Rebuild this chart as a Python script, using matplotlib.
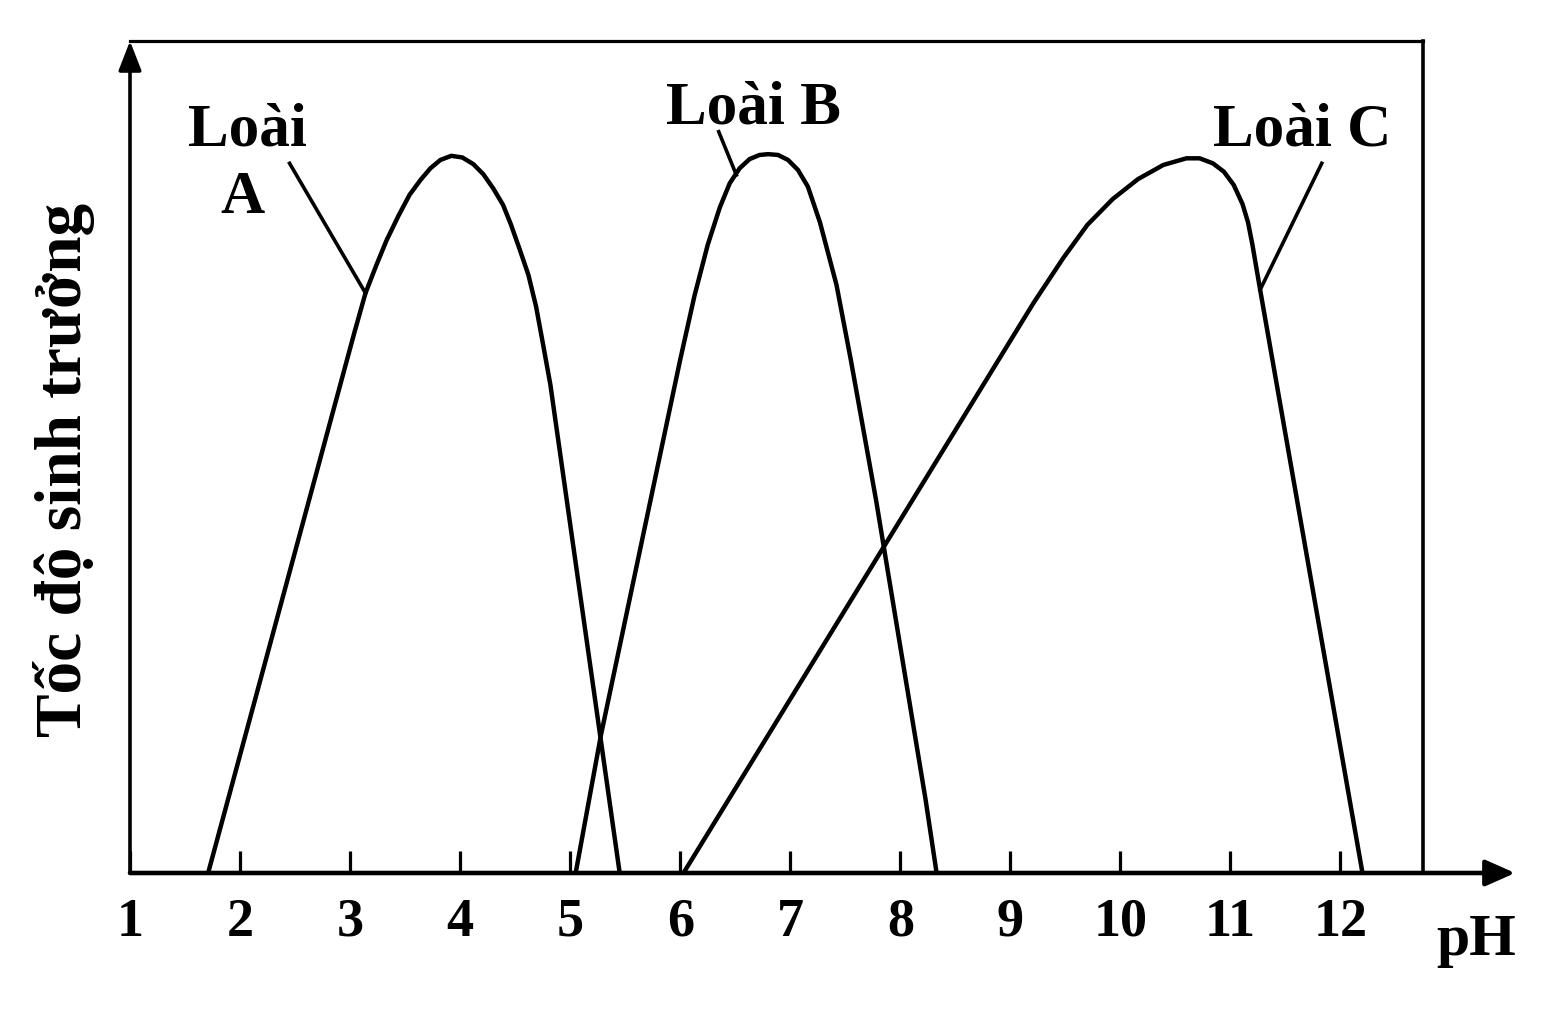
import matplotlib
matplotlib.use("Agg")
import matplotlib.pyplot as plt

plt.rcParams['font.family'] = ['Liberation Serif', 'DejaVu Serif']
plt.rcParams['font.weight'] = 'bold'

# pH values and growth rate (0-100)
ph_a = [1.71, 3.04, 3.14, 3.24, 3.33, 3.44, 3.54, 3.64, 3.73, 3.82, 3.92, 4.02, 4.12,
        4.21, 4.30, 4.39, 4.46, 4.54, 4.62, 4.69, 4.75, 4.82, 5.45]
rate_a = [0, 65.0, 69.7, 73.1, 76.0, 79.0, 81.5, 83.3, 84.7, 85.7, 86.2, 86.0, 85.2,
          84.0, 82.3, 80.3, 78.0, 75.0, 71.9, 68.1, 63.8, 58.7, 0]

ph_b = [5.05, 5.28, 5.73, 6.00, 6.13, 6.25, 6.36, 6.45, 6.54, 6.63, 6.72, 6.80, 6.89,
        6.98, 7.07, 7.16, 7.27, 7.42, 7.55, 7.78, 8.23, 8.33]
rate_b = [0, 16.6, 44.8, 61.7, 69.4, 75.5, 80.0, 82.9, 84.7, 85.8, 86.3, 86.4, 86.3,
          85.7, 84.5, 82.5, 78.2, 70.7, 61.7, 44.8, 8.8, 0]

ph_c = [6.03, 9.21, 9.48, 9.70, 9.93, 10.16, 10.39, 10.60, 10.72, 10.84, 10.94, 11.03,
        11.11, 11.16, 11.20, 11.27, 12.20]
rate_c = [0, 68.5, 73.9, 77.9, 81.0, 83.4, 85.1, 85.9, 85.9, 85.3, 84.3, 82.7,
          80.4, 78.2, 75.5, 70.1, 0]

ph_ticks = [1, 2, 3, 4, 5, 6, 7, 8, 9, 10, 11, 12]

# species labels: text, x, baseline y, leader start, leader end
labels = ['Loài', 'A', 'Loài B', 'Loài C']
label_x = [2.07, 2.02, 6.67, 11.65]
label_y = [87.5, 79.3, 90.1, 87.5]
leader_from = [(2.45, 85.3), (6.35, 89.1), (11.83, 85.3)]
leader_to = [(3.14, 69.7), (6.51, 83.9), (11.27, 70.1)]

fig = plt.figure(figsize=(15.45, 10.18), dpi=100)
ax = fig.add_axes([130 / 1545, 1 - 873 / 1018, 1293 / 1545, 832 / 1018])

lw = 3.2
for xs, ys in [(ph_a, rate_a), (ph_b, rate_b), (ph_c, rate_c)]:
    ax.plot(xs, ys, color='black', lw=lw, solid_joinstyle='round')

for (x0, y0), (x1, y1) in zip(leader_from, leader_to):
    ax.plot([x0, x1], [y0, y1], color='black', lw=2.6)

for t, x, y in zip(labels, label_x, label_y):
    ax.text(x, y, t, ha='center', va='baseline', fontsize=44, fontweight='bold')

ax.set_xlim(1, 12.75)
ax.set_ylim(0, 100)
ax.set_xticks(ph_ticks)
ax.set_xticklabels([str(v) for v in ph_ticks])
ax.set_yticks([])
ax.tick_params(axis='x', direction='in', length=16, width=2.3, pad=18,
               labelsize=39)
for lab in ax.get_xticklabels():
    lab.set_fontweight('bold')

ax.spines['bottom'].set_visible(False)
ax.spines['left'].set_visible(False)
ax.spines['top'].set_linewidth(2.3)
ax.spines['right'].set_linewidth(2.6)

# axis arrows
ax.annotate('', xy=(1.0712, 0), xytext=(0, 0), xycoords='axes fraction',
            arrowprops=dict(arrowstyle='-|>,head_length=1.8,head_width=0.8',
                            mutation_scale=10, lw=3.3, color='black',
                            shrinkA=0, shrinkB=0))
ax.annotate('', xy=(0, 1.0), xytext=(0, 0), xycoords='axes fraction',
            arrowprops=dict(arrowstyle='-|>,head_length=1.8,head_width=0.7',
                            mutation_scale=10, lw=2.6, color='black',
                            shrinkA=0, shrinkB=0))

fig.text(1476 / 1545, 1 - 955 / 1018, 'pH', ha='center', va='baseline',
         fontsize=43, fontweight='bold')
fig.text(64 / 1545, 1 - 470 / 1018, 'Tốc độ sinh trưởng', rotation=90,
         ha='center', va='center', fontsize=47, fontweight='bold')

fig.savefig('out.png', dpi=100, facecolor='white')
